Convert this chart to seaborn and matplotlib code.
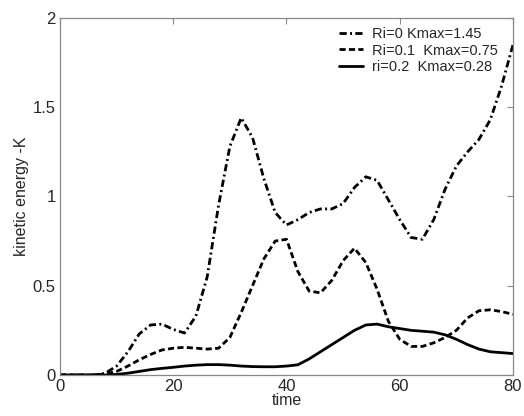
import numpy as np
import pandas as pd
import matplotlib.pyplot as plt
import seaborn as sns

# time axis (shared by all runs)
time = [0, 2, 4, 6, 8, 10, 12, 14, 16, 18, 20, 22, 24, 26, 28, 30, 32, 34, 36, 38, 40,
        42, 44, 46, 48, 50, 52, 54, 56, 58, 60, 62, 64, 66, 68, 70, 72, 74, 76, 78, 80]

# Ri=0
k_ri0 = [0, 0, 0, 0, 0.01, 0.05, 0.13, 0.23, 0.28, 0.285, 0.255, 0.235, 0.33, 0.55, 0.95,
         1.28, 1.44, 1.33, 1.1, 0.91, 0.84, 0.87, 0.91, 0.93, 0.93, 0.96, 1.05, 1.11, 1.09,
         0.98, 0.87, 0.77, 0.76, 0.87, 1.04, 1.17, 1.25, 1.32, 1.43, 1.62, 1.85]
# Ri=0.1
k_ri01 = [0, 0, 0, 0, 0.005, 0.02, 0.05, 0.085, 0.115, 0.14, 0.15, 0.155, 0.15, 0.145,
          0.15, 0.21, 0.35, 0.5, 0.65, 0.75, 0.76, 0.58, 0.47, 0.46, 0.53, 0.64, 0.71, 0.63,
          0.48, 0.3, 0.2, 0.16, 0.16, 0.18, 0.21, 0.25, 0.32, 0.36, 0.365, 0.355, 0.34]
# ri=0.2
k_ri02 = [0, 0, 0, 0, 0, 0.003, 0.01, 0.02, 0.03, 0.037, 0.043, 0.05, 0.055, 0.058, 0.058,
          0.055, 0.05, 0.047, 0.046, 0.046, 0.05, 0.057, 0.09, 0.13, 0.17, 0.21, 0.25, 0.28,
          0.285, 0.27, 0.26, 0.25, 0.245, 0.24, 0.225, 0.2, 0.17, 0.145, 0.13, 0.125, 0.12]

labels = ["Ri=0 Kmax=1.45", "Ri=0.1  Kmax=0.75", "ri=0.2  Kmax=0.28"]

df = pd.DataFrame({
    "time": time * 3,
    "K": k_ri0 + k_ri01 + k_ri02,
    "run": [labels[0]] * len(time) + [labels[1]] * len(time) + [labels[2]] * len(time),
})

sns.set_style("white")
plt.rcParams['font.family'] = ['Liberation Sans', 'DejaVu Sans']

fig = plt.figure(figsize=(5.24, 4.16), dpi=100)
ax = fig.add_axes([0.1145, 0.0986, 0.8645, 0.8584])

styles = [(0, (2.6, 1.2, 0.7, 1.2)), (0, (2.2, 1.2)), "-"]
for lab, ls in zip(labels, styles):
    sns.lineplot(data=df[df["run"] == lab], x="time", y="K", ax=ax, color="black",
                 linewidth=2.0, linestyle=ls, label=lab)

ax.set_xlim(0, 80)
ax.set_ylim(0, 2)
ax.set_xticks([0, 20, 40, 60, 80])
ax.set_yticks([0, 0.5, 1, 1.5, 2])
ax.set_yticklabels(["0", "0.5", "1", "1.5", "2"])
ax.set_xlabel("time", fontsize=11.5, labelpad=-1)
ax.set_ylabel("kinetic energy -K", fontsize=11.5, labelpad=3)
ax.tick_params(direction="in", top=True, right=True, length=4, color="#888888",
               labelsize=12, pad=3)
for s in ax.spines.values():
    s.set_color("#888888")
    s.set_linewidth(0.9)

leg = ax.legend(loc="upper right", frameon=False, fontsize=10.5, handlelength=1.6,
                handletextpad=0.6, labelspacing=0.2, borderaxespad=0.2,
                bbox_to_anchor=(0.985, 1.0))

plt.savefig("out.png", dpi=100)
